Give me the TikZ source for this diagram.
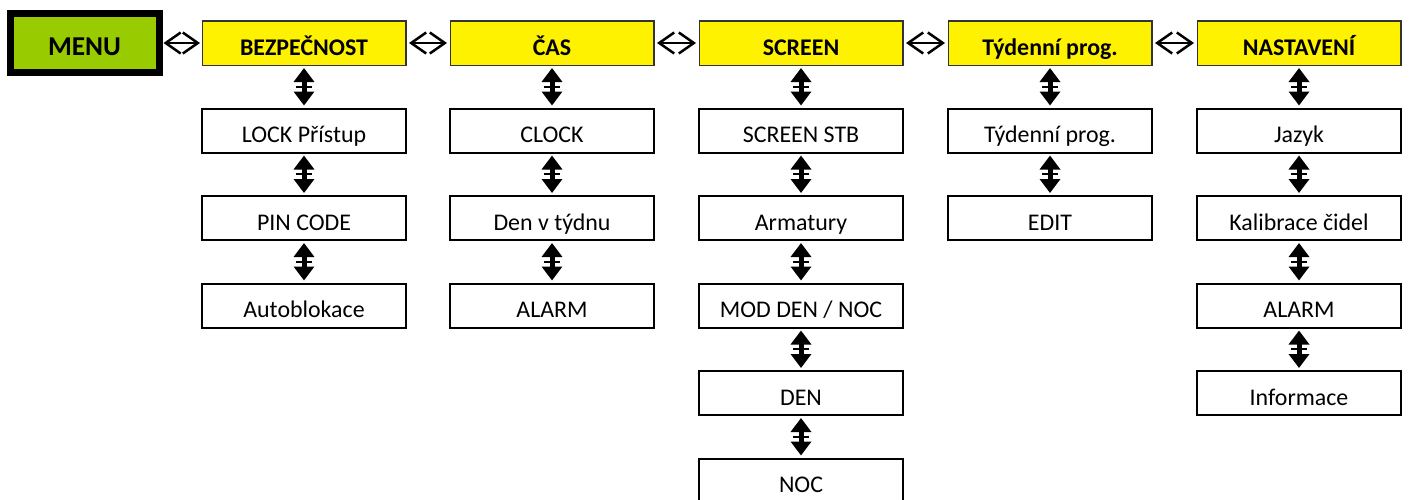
\documentclass[tikz,border=0pt]{standalone}
\usepackage{fontspec}
\setmainfont{Carlito}
\usepackage{tikz}
\usetikzlibrary{positioning,arrows.meta,decorations.markings}
\definecolor{menugreen}{RGB}{153,204,0}
\newcommand{\boxfont}{\fontsize{13.6}{16}\selectfont}
\tikzstyle{menu} = [rectangle, draw=black, line width=0.14cm, fill=menugreen, minimum width=2.98cm, minimum height=1.18cm, text height=0.5cm, text depth=0cm, font=\fontsize{15.5}{18}\selectfont\bfseries]
\tikzstyle{head} = [rectangle, draw=black!80, line width=0.03cm, fill=yellow, minimum width=4.07cm, minimum height=0.89cm, text height=0.48cm, text depth=0cm, font=\boxfont\bfseries]
\tikzstyle{item} = [rectangle, draw=black, line width=0.04cm, fill=white, minimum width=4.08cm, minimum height=0.88cm, text height=0.48cm, text depth=0cm, font=\boxfont]
\tikzstyle{harrow} = [line width=0.05cm, {Straight Barb[length=0.3cm,width=0.42cm]}-{Straight Barb[length=0.3cm,width=0.42cm]}, shorten <=0.05cm, shorten >=0.05cm]
\tikzstyle{varrow} = [line width=0.1cm, {Triangle[length=0.28cm,width=0.4cm]}-{Triangle[length=0.28cm,width=0.4cm]}, shorten <=0.04cm, shorten >=0.04cm, postaction={decorate}, decoration={markings, mark=at position 0.5 with {\draw[-, line width=0.035cm, shorten <=0pt, shorten >=0pt] (0,-0.16) -- (0,0.16);}}]

\begin{document}
\begin{tikzpicture}[node distance=0.83cm]
	\useasboundingbox (0,0) rectangle (28.26,-9.98);
	% top row
	\node (Menu) [menu] at (1.69,-0.86) {MENU};
	\node (Bezpecnost) [head, right = 0.78cm of Menu] {BEZPEČNOST};
	\node (Cas) [head, right = 0.86cm of Bezpecnost] {ČAS};
	\node (Screen) [head, right = 0.88cm of Cas] {SCREEN};
	\node (Tydenni) [head, right = 0.88cm of Screen] {Týdenní prog.};
	\node (Nastaveni) [head, right = 0.88cm of Tydenni] {NASTAVENÍ};
	
	\draw[harrow, shorten <=0.02cm, shorten >=0.03cm] (Menu) -- (Bezpecnost);
	\draw[harrow] (Bezpecnost) -- (Cas);
	\draw[harrow] (Cas) -- (Screen);
	\draw[harrow] (Screen) -- (Tydenni);
	\draw[harrow] (Tydenni) -- (Nastaveni);
	
	% BEZPEČNOST
	\node (Lock) [item, below = of Bezpecnost] {LOCK Přístup};
	\node (Pin) [item, below = of Lock] {PIN CODE};
	\node (Autoblok) [item, below = of Pin] {Autoblokace};
	\draw[varrow] (Bezpecnost) -- (Lock);
	\draw[varrow] (Lock) -- (Pin);
	\draw[varrow] (Pin) -- (Autoblok);
	
	% ČAS
	\node (Clock) [item, below = of Cas] {CLOCK};
	\node (Den) [item, below = of Clock] {Den v týdnu};
	\node (Alarm) [item, below = of Den] {ALARM};
	\draw[varrow] (Cas) -- (Clock);
	\draw[varrow] (Clock) -- (Den);
	\draw[varrow] (Den) -- (Alarm);
	
	% SCREEN
	\node (ScreenStb) [item, below = of Screen] {SCREEN STB};
	\node (Armatury) [item, below = of ScreenStb] {Armatury};
	\node (Mod) [item, below = of Armatury] {MOD DEN / NOC};
	\node (ModDen) [item, below = of Mod] {DEN};
	\node (ModNoc) [item, below = of ModDen] {NOC};
	\draw[varrow] (Screen) -- (ScreenStb);
	\draw[varrow] (ScreenStb) -- (Armatury);
	\draw[varrow] (Armatury) -- (Mod);
	\draw[varrow] (Mod) -- (ModDen);
	\draw[varrow] (ModDen) -- (ModNoc);
	
	% Týdenní prog.
	\node (Prog) [item, below = of Tydenni] {Týdenní prog.};
	\node (Edit) [item, below = of Prog] {EDIT};
	\draw[varrow] (Tydenni) -- (Prog);
	\draw[varrow] (Prog) -- (Edit);
	
	% NASTAVENÍ
	\node (Jazyk) [item, below = of Nastaveni] {Jazyk};
	\node (Kalibrace) [item, below = of Jazyk] {Kalibrace čidel};
	\node (Alarm2) [item, below = of Kalibrace] {ALARM};
	\node (Informace) [item, below = of Alarm2] {Informace};
	\draw[varrow] (Nastaveni) -- (Jazyk);
	\draw[varrow] (Jazyk) -- (Kalibrace);
	\draw[varrow] (Kalibrace) -- (Alarm2);
	\draw[varrow] (Alarm2) -- (Informace);
\end{tikzpicture}
\end{document}
